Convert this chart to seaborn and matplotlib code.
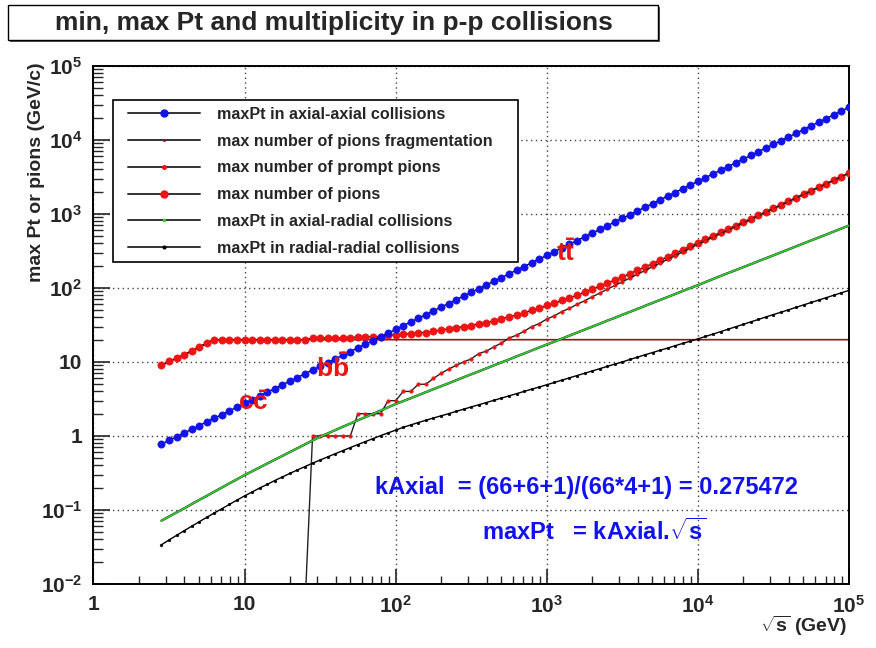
import matplotlib
matplotlib.use("Agg")
import matplotlib.pyplot as plt
import numpy as np
import pandas as pd
import seaborn as sns
from matplotlib.lines import Line2D
from matplotlib.patches import Rectangle
from matplotlib.legend_handler import HandlerLine2D
from matplotlib.ticker import FixedLocator, FixedFormatter, LogLocator, NullFormatter

# ---------------- data ----------------
sqrt_s = [2.818, 3.162, 3.548, 3.981, 4.467, 5.012, 5.623, 6.310, 7.079, 7.943, 8.913,
          10.0, 11.22, 12.59, 14.13, 15.85, 17.78, 19.95, 22.39, 25.12, 28.18,
          31.62, 35.48, 39.81, 44.67, 50.12, 56.23, 63.10, 70.79, 79.43, 89.13,
          100.0, 112.2, 125.9, 141.3, 158.5, 177.8, 199.5, 223.9, 251.2, 281.8,
          316.2, 354.8, 398.1, 446.7, 501.2, 562.3, 631.0, 707.9, 794.3, 891.3,
          1000, 1122, 1259, 1413, 1585, 1778, 1995, 2239, 2512, 2818,
          3162, 3548, 3981, 4467, 5012, 5623, 6310, 7079, 7943, 8913,
          10000, 11220, 12590, 14130, 15850, 17780, 19950, 22390, 25120, 28180,
          31620, 35480, 39810, 44670, 50120, 56230, 63100, 70790, 79430, 89130,
          100000]

max_pt_axial_axial = [0.776, 0.871, 0.977, 1.097, 1.231, 1.381, 1.549, 1.738, 1.950, 2.188, 2.456,
                      2.755, 3.091, 3.468, 3.893, 4.366, 4.898, 5.496, 6.168, 6.920, 7.763,
                      8.711, 9.775, 10.97, 12.31, 13.81, 15.49, 17.38, 19.50, 21.88, 24.56,
                      27.55, 30.91, 34.68, 38.93, 43.66, 48.98, 54.96, 61.68, 69.20, 77.63,
                      87.11, 97.75, 109.7, 123.1, 138.1, 154.9, 173.8, 195.0, 218.8, 245.6,
                      275.5, 309.1, 346.8, 389.3, 436.6, 489.8, 549.6, 616.8, 692.0, 776.3,
                      871.1, 977.5, 1097, 1231, 1381, 1549, 1738, 1950, 2188, 2456,
                      2755, 3091, 3468, 3893, 4366, 4898, 5496, 6168, 6920, 7763,
                      8711, 9775, 10970, 12310, 13810, 15490, 17380, 19500, 21880, 24560,
                      27550]

pions_fragmentation = [9.0, 10.2, 11.2, 12.5, 14.1, 15.9, 18.0, 20, 20, 20, 20,
                       20, 20, 20, 20, 20, 20, 20, 20, 20, 20,
                       20, 20, 20, 20, 20, 20, 20, 20, 20, 20,
                       20, 20, 20, 20, 20, 20, 20, 20, 20, 20,
                       20, 20, 20, 20, 20, 20, 20, 20, 20, 20,
                       20, 20, 20, 20, 20, 20, 20, 20, 20, 20,
                       20, 20, 20, 20, 20, 20, 20, 20, 20, 20,
                       20, 20, 20, 20, 20, 20, 20, 20, 20, 20,
                       20, 20, 20, 20, 20, 20, 20, 20, 20, 20,
                       20]

pions_prompt = [0.005, 0.005, 0.005, 0.005, 0.005, 0.005, 0.005, 0.005, 0.005, 0.005, 0.005,
                0.005, 0.005, 0.005, 0.005, 0.005, 0.005, 0.005, 0.005, 0.005, 1,
                1, 1, 1, 1, 1, 2, 2, 2, 2, 3,
                3, 4, 4, 5, 5, 6, 7, 8, 9, 10,
                11, 13, 14, 16, 18, 21, 23, 26, 30, 33,
                38, 42, 48, 53, 60, 67, 76, 85, 96, 108,
                121, 136, 153, 172, 193, 217, 244, 274, 308, 347,
                389, 435, 485, 542, 605, 676, 755, 843, 942, 1052,
                1177, 1315, 1469, 1641, 1832, 2046, 2286, 2553, 2851, 3184,
                3556]

pions_total = [9.0, 10.2, 11.2, 12.5, 14.1, 15.9, 18.0, 20, 20, 20, 20,
               20, 20, 20, 20, 20, 20, 20, 20, 20, 21,
               21, 21, 21, 21, 21, 22, 22, 22, 22, 23,
               23, 24, 24, 25, 25, 26, 27, 28, 29, 30,
               31, 33, 34, 36, 38, 41, 43, 46, 50, 53,
               58, 62, 68, 73, 80, 87, 96, 105, 116, 128,
               141, 156, 173, 192, 213, 237, 264, 294, 328, 367,
               409, 455, 505, 562, 625, 696, 775, 863, 962, 1072,
               1197, 1335, 1489, 1661, 1852, 2066, 2306, 2573, 2871, 3204,
               3576]

max_pt_axial_radial = [0.0716, 0.0815, 0.0927, 0.105, 0.120, 0.137, 0.155, 0.177, 0.201, 0.229, 0.260,
                       0.296, 0.333, 0.376, 0.424, 0.478, 0.538, 0.607, 0.684, 0.771, 0.869,
                       0.979, 1.08, 1.20, 1.33, 1.47, 1.63, 1.80, 1.99, 2.20, 2.44,
                       2.70, 2.96, 3.24, 3.56, 3.91, 4.29, 4.70, 5.15, 5.66, 6.21,
                       6.81, 7.46, 8.19, 9.00, 9.86, 10.8, 11.9, 13.0, 14.3, 15.7,
                       17.2, 18.8, 20.7, 22.7, 24.9, 27.3, 29.9, 32.8, 36.1, 39.5,
                       43.4, 47.5, 52.1, 57.3, 62.8, 68.9, 75.5, 82.8, 91.0, 99.8,
                       109, 120, 132, 145, 159, 174, 191, 209, 230, 252,
                       276, 303, 332, 365, 400, 439, 481, 527, 579, 635,
                       697]

max_pt_radial_radial = [0.0339, 0.0393, 0.0454, 0.0524, 0.0603, 0.0693, 0.0796, 0.0912, 0.104, 0.119, 0.136,
                        0.155, 0.175, 0.198, 0.222, 0.250, 0.279, 0.312, 0.348, 0.386, 0.429,
                        0.473, 0.522, 0.575, 0.634, 0.697, 0.766, 0.840, 0.920, 1.01, 1.10,
                        1.20, 1.31, 1.41, 1.52, 1.63, 1.75, 1.87, 2.00, 2.15, 2.30,
                        2.47, 2.64, 2.83, 3.03, 3.25, 3.48, 3.73, 4.00, 4.29, 4.59,
                        4.92, 5.28, 5.68, 6.10, 6.55, 7.03, 7.55, 8.11, 8.71, 9.35,
                        10.0, 10.8, 11.6, 12.5, 13.4, 14.4, 15.4, 16.6, 17.8, 19.1,
                        20.5, 22.1, 23.8, 25.7, 27.7, 29.9, 32.2, 34.8, 37.5, 40.5,
                        43.7, 47.0, 50.7, 54.7, 59.0, 63.7, 68.6, 74.0, 79.8, 86.1,
                        92.7]

legend_labels = ["maxPt in axial-axial collisions",
                 "max number of pions fragmentation",
                 "max number of prompt pions",
                 "max number of pions",
                 "maxPt in axial-radial collisions",
                 "maxPt in radial-radial collisions"]

x_tick_values = [1, 10, 100, 1000, 10000, 100000]
x_tick_labels = ["1", "10", r"$10^{2}$", r"$10^{3}$", r"$10^{4}$", r"$10^{5}$"]
y_tick_values = [0.01, 0.1, 1, 10, 100, 1000, 10000, 100000]
y_tick_labels = [r"$10^{-2}$", r"$10^{-1}$", "1", "10", r"$10^{2}$", r"$10^{3}$", r"$10^{4}$", r"$10^{5}$"]

title_text = "min, max Pt and multiplicity in p-p collisions"
x_label = r"$\sqrt{\mathrm{s}}$ (GeV)"
y_label = "max Pt or pions (GeV/c)"
k_text = "kAxial  = (66+6+1)/(66*4+1) = 0.275472"
pt_text = r"maxPt   = kAxial.$\sqrt{\mathrm{s}}$"
pair_labels = [r"$\mathrm{c\bar{c}}$", r"$\mathrm{b\bar{b}}$", r"$\mathrm{t\bar{t}}$"]
pair_x = [9.0, 29.5, 1148]
pair_y = [2.8, 8.5, 297]

# ---------------- style ----------------
sns.set_style("ticks")
plt.rcParams["font.family"] = ["Liberation Sans", "DejaVu Sans"]
plt.rcParams["font.weight"] = "bold"
plt.rcParams["mathtext.fontset"] = "custom"
plt.rcParams["mathtext.rm"] = "Liberation Sans:bold"
plt.rcParams["mathtext.bf"] = "Liberation Sans:bold"
plt.rcParams["mathtext.it"] = "Liberation Sans:bold"
plt.rcParams["mathtext.sf"] = "Liberation Sans:bold"

BLUE = "#1212ee"
RED = "#ee1414"
GREEN = "#2ed02e"
FRAG = "#8b1a1a"

df = pd.DataFrame({
    "sqrt_s": sqrt_s,
    "axial_axial": max_pt_axial_axial,
    "frag": pions_fragmentation,
    "prompt": pions_prompt,
    "total": pions_total,
    "axial_radial": max_pt_axial_radial,
    "radial_radial": max_pt_radial_radial,
})

fig = plt.figure(figsize=(8.76, 6.48), dpi=100)
ax = fig.add_axes([0.1067, 0.0988, 0.8624, 0.7994])
ax.set_xscale("log")
ax.set_yscale("log")
ax.set_xlim(1, 1e5)
ax.set_ylim(1e-2, 1e5)

common = dict(ax=ax, estimator=None, sort=False, legend=False)
sns.lineplot(data=df, x="sqrt_s", y="frag", color=FRAG, linewidth=1.2, zorder=2, **common)
sns.lineplot(data=df, x="sqrt_s", y="total", color="black", linewidth=1.0, marker="o",
             markersize=5.2, markerfacecolor=RED, markeredgecolor=RED, markeredgewidth=0.5,
             zorder=3, **common)
sns.lineplot(data=df, x="sqrt_s", y="prompt", color="#222222", linewidth=1.0, marker="o",
             markersize=2.6, markerfacecolor=RED, markeredgecolor=RED, markeredgewidth=0.3,
             zorder=4, **common)
sns.lineplot(data=df, x="sqrt_s", y="axial_radial", color="#222222", linewidth=1.7, zorder=4, **common)
sns.lineplot(data=df, x="sqrt_s", y="axial_radial", color=GREEN, linewidth=1.2, zorder=4.1, **common)
sns.lineplot(data=df, x="sqrt_s", y="radial_radial", color="black", linewidth=1.0, marker="o",
             markersize=2.0, markerfacecolor="black", markeredgecolor="black", markeredgewidth=0.3,
             zorder=4, **common)
sns.lineplot(data=df, x="sqrt_s", y="axial_axial", color="black", linewidth=1.0, marker="o",
             markersize=5.2, markerfacecolor=BLUE, markeredgecolor=BLUE, markeredgewidth=0.5,
             zorder=5, **common)

ax.set_xlabel("")
ax.set_ylabel("")

# ticks
ax.xaxis.set_major_locator(FixedLocator(x_tick_values))
ax.xaxis.set_major_formatter(FixedFormatter(x_tick_labels))
ax.yaxis.set_major_locator(FixedLocator(y_tick_values))
ax.yaxis.set_major_formatter(FixedFormatter(y_tick_labels))
ax.xaxis.set_minor_locator(LogLocator(base=10, subs=np.arange(2, 10), numticks=20))
ax.yaxis.set_minor_locator(LogLocator(base=10, subs=np.arange(2, 10), numticks=20))
ax.xaxis.set_minor_formatter(NullFormatter())
ax.yaxis.set_minor_formatter(NullFormatter())
ax.tick_params(axis="x", which="major", direction="in", length=11, width=1.2, pad=8,
               labelsize=15, top=False)
ax.tick_params(axis="x", which="minor", direction="in", length=5.5, width=1.0, top=False)
ax.tick_params(axis="y", which="major", direction="in", length=12, width=1.2, pad=8,
               labelsize=15, right=False)
ax.tick_params(axis="y", which="minor", direction="in", length=7, width=1.0, right=False)
for lab in ax.get_xticklabels() + ax.get_yticklabels():
    lab.set_fontweight("bold")

for sp in ax.spines.values():
    sp.set_linewidth(1.4)
    sp.set_color("black")

ax.grid(which="major", linestyle=(0, (1, 2.5)), color="#444444", linewidth=1.0)
ax.set_axisbelow(True)

# annotations
for lab, px, py in zip(pair_labels, pair_x, pair_y):
    ax.text(px, py, lab, color=RED, fontsize=19, ha="left", va="center", zorder=6)
ax.text(0.373, 0.187, k_text, transform=ax.transAxes, color=BLUE, fontsize=17,
        fontweight="bold", ha="left", va="center", zorder=6)
ax.text(0.514, 0.101, pt_text, transform=ax.transAxes, color=BLUE, fontsize=17,
        fontweight="bold", ha="left", va="center", zorder=6)

# legend
lc = "#333333"
handles = [
    Line2D([], [], color=lc, lw=1.4, marker="o", ms=5, mfc=BLUE, mec=BLUE),
    Line2D([], [], color=lc, lw=1.4, marker="o", ms=1.2, mfc=FRAG, mec=FRAG),
    Line2D([], [], color=lc, lw=1.4, marker="o", ms=2.6, mfc=RED, mec=RED),
    Line2D([], [], color=lc, lw=1.4, marker="o", ms=5, mfc=RED, mec=RED),
    Line2D([], [], color=lc, lw=1.4, marker="o", ms=1.5, mfc=GREEN, mec=GREEN),
    Line2D([], [], color=lc, lw=1.4, marker="o", ms=2, mfc="black", mec="black"),
]
leg_fs = 11.6
leg = ax.legend(handles, legend_labels, loc="upper left",
                bbox_to_anchor=(0.026, 0.625, 0.536, 0.309), mode="expand",
                borderaxespad=0, frameon=True, fancybox=False, framealpha=1,
                edgecolor="black", numpoints=1, handlelength=4.97, handletextpad=1.06,
                labelspacing=0.73, borderpad=0.42, prop={"size": leg_fs, "weight": "bold"},
                handler_map={Line2D: HandlerLine2D(xpad=0.52)})
leg.get_frame().set_linewidth(1.2)
leg.set_zorder(10)

# axis titles
fig.text(0.042, 0.904, y_label, rotation=90, ha="center", va="top", fontsize=14,
         fontweight="bold")
fig.text(0.967, 0.034, x_label, ha="right", va="center", fontsize=14, fontweight="bold")

# title box with shadow
fig.patches.append(Rectangle((0.0115, 0.9345), 0.742, 0.054, transform=fig.transFigure,
                             facecolor="#555555", edgecolor="none", zorder=1))
fig.patches.append(Rectangle((0.00913, 0.9383), 0.742, 0.054, transform=fig.transFigure,
                             facecolor="white", edgecolor="black", linewidth=1.0, zorder=2))
fig.text(0.381, 0.965, title_text, ha="center", va="center", fontsize=19,
         fontweight="bold", zorder=3)

fig.savefig("out.png", dpi=100, facecolor="white")
